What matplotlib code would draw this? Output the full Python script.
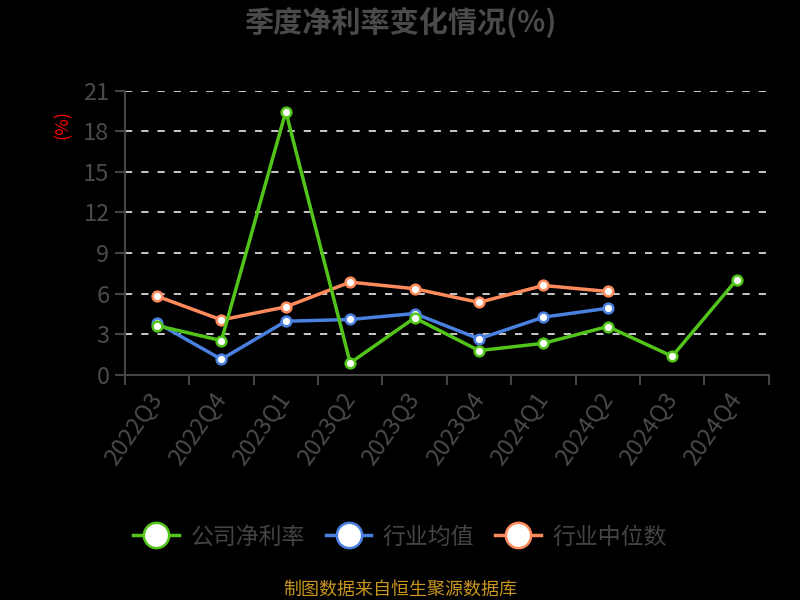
import matplotlib.pyplot as plt
import numpy as np

plt.rcParams['font.family'] = ['Noto Sans CJK SC', 'DejaVu Sans']

quarters = ['2022Q3', '2022Q4', '2023Q1', '2023Q2', '2023Q3',
            '2023Q4', '2024Q1', '2024Q2', '2024Q3', '2024Q4']
company = [3.65, 2.54, 19.45, 0.89, 4.22, 1.80, 2.34, 3.58, 1.38, 7.03]
industry_avg = [3.85, 1.16, 3.97, 4.10, 4.54, 2.67, 4.27, 4.93]
industry_median = [5.82, 4.07, 5.03, 6.86, 6.37, 5.36, 6.61, 6.17]

names = ['公司净利率', '行业均值', '行业中位数']
colors = ['#52c41a', '#4a80e0', '#ff8b5c']
gray = '#4a4a4a'

fig = plt.figure(figsize=[8, 6], dpi=100, facecolor='black')
ax = fig.add_axes([0.156, 0.375, 0.805, 0.474], facecolor='black')

x = np.arange(len(quarters))
series = [company, industry_avg, industry_median]
for vals, name, c in zip(series[::-1], names[::-1], colors[::-1]):
    ax.plot(x[:len(vals)], vals, color=c, lw=2.5, marker='o', ms=7,
            mfc='white', mec=c, mew=1.8, label=name)

ax.set_xlim(-0.5, len(quarters) - 0.5)
ax.set_ylim(0, 21)
ax.set_yticks(np.arange(0, 22, 3))
ax.set_xticks(x)
ax.set_xticklabels(quarters, rotation=55, ha='right', va='center',
                   rotation_mode='anchor', fontsize=17, color=gray)
ax.set_xticks(np.arange(-0.5, len(quarters), 1), minor=True)
ax.tick_params(axis='x', which='major', length=0, pad=14)
ax.tick_params(axis='x', which='minor', length=7, color='#444444', width=1.5)
ax.tick_params(axis='y', length=7, color='#444444', width=1.5,
               labelsize=17, labelcolor=gray, pad=4)

for yv in np.arange(3, 22, 3):
    ax.axhline(yv, color='#d9d9d9', lw=1.3, ls=(0, (4, 5)), zorder=0)

for side in ['top', 'right']:
    ax.spines[side].set_visible(False)
for side in ['left', 'bottom']:
    ax.spines[side].set_color('#444444')
    ax.spines[side].set_linewidth(1.5)

fig.text(0.078, 0.792, '(%)', color='red', rotation=90, fontsize=13,
         ha='center', va='center')
fig.text(0.5, 0.963, '季度净利率变化情况(%)', color='#4a4a4a', fontsize=21,
         fontweight='bold', ha='center', va='center')

handles, labels = ax.get_legend_handles_labels()
leg = fig.legend(handles[::-1], labels[::-1], loc='center',
                 bbox_to_anchor=(0.5, 0.105), ncol=3, frameon=False,
                 fontsize=16.5, labelcolor='#444444', markerscale=2.6,
                 handlelength=2.0, columnspacing=0.9, handletextpad=0.5)

fig.text(0.5, 0.018, '制图数据来自恒生聚源数据库', color='#c8961e', fontsize=13,
         ha='center', va='center')

plt.savefig('out.png', facecolor='black')
plt.close(fig)
